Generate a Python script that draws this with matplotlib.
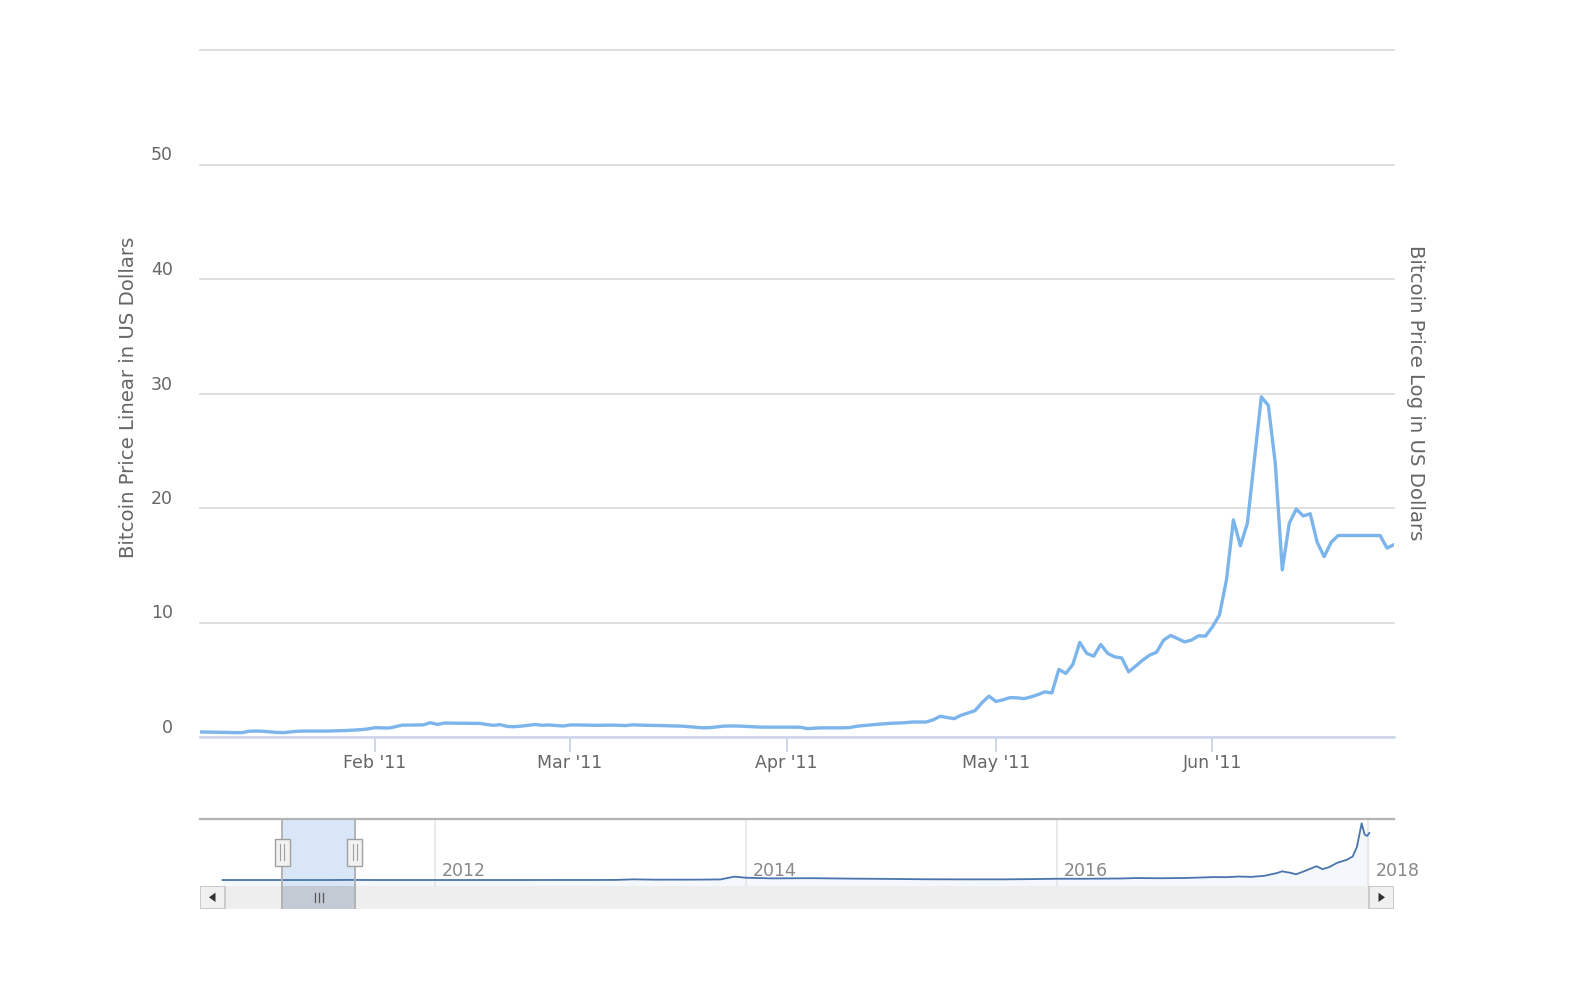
"""
Bitcoin price, Jan - Jun 2011, with a navigator strip underneath
"""
import numpy as np
import pandas as pd
import matplotlib
matplotlib.use("Agg")
import matplotlib.pyplot as plt
import matplotlib.dates as mdates
import matplotlib.transforms as mtrans
from matplotlib.patches import Rectangle, Polygon

# ---- data (one value per day from 7 Jan 2011) ----
price_start = "2011-01-07"
price_jan = [0.44, 0.43, 0.42, 0.41, 0.40, 0.38, 0.38, 0.50, 0.52, 0.50,
             0.45, 0.40, 0.38, 0.45, 0.50, 0.52, 0.52, 0.52, 0.52, 0.53,
             0.55, 0.57, 0.60, 0.64, 0.70]
price_feb = [0.81, 0.80, 0.78, 0.90, 1.04, 1.04, 1.05, 1.06, 1.25, 1.10,
             1.22, 1.21, 1.20, 1.20, 1.19, 1.19, 1.10, 1.02, 1.08, 0.92,
             0.90, 0.95, 1.02, 1.10, 1.02, 1.05, 1.00, 0.96]
price_mar = [1.05, 1.05, 1.04, 1.03, 1.02, 1.03, 1.04, 1.02, 1.00, 1.06,
             1.04, 1.02, 1.01, 1.00, 0.98, 0.96, 0.95, 0.90, 0.85, 0.80,
             0.82, 0.88, 0.95, 0.96, 0.96, 0.93, 0.90, 0.87, 0.86, 0.86,
             0.86]
price_apr = [0.86, 0.86, 0.85, 0.73, 0.77, 0.80, 0.80, 0.80, 0.80, 0.82,
             0.93, 1.00, 1.05, 1.11, 1.15, 1.20, 1.22, 1.25, 1.31, 1.31,
             1.31, 1.50, 1.81, 1.70, 1.60, 1.90, 2.10, 2.30, 3.00, 3.57]
price_may = [3.10, 3.25, 3.44, 3.42, 3.35, 3.50, 3.70, 3.94, 3.85, 5.90,
             5.55, 6.33, 8.26, 7.30, 7.06, 8.08, 7.30, 7.00, 6.90, 5.69,
             6.19, 6.71, 7.15, 7.41, 8.46, 8.87, 8.60, 8.31, 8.46, 8.84,
             8.81]
price_jun = [9.62, 10.65, 13.70, 18.96, 16.70, 18.67, 24.20, 29.70, 28.96,
             23.90, 14.60, 18.67, 19.90, 19.30, 19.50, 17.00, 15.75, 17.00,
             17.60, 17.60, 17.60, 17.60, 17.60, 17.60, 17.60, 16.50, 16.80]

# ---- navigator series (whole history, coarse) ----
nav_dates = ["2010-08-20", "2010-09-15", "2010-11-01", "2011-01-01", "2011-03-01",
             "2011-05-01", "2011-06-08", "2011-07-01", "2011-09-01", "2011-11-01",
             "2012-01-01", "2012-04-01", "2012-07-01", "2012-10-01", "2013-01-01",
             "2013-03-01", "2013-04-10", "2013-06-01", "2013-09-01", "2013-11-01",
             "2013-12-04", "2014-01-01", "2014-03-01", "2014-06-01", "2014-09-01",
             "2014-12-01", "2015-03-01", "2015-06-01", "2015-09-01", "2015-11-01",
             "2016-01-01", "2016-03-01", "2016-06-01", "2016-07-01", "2016-09-01",
             "2016-11-01", "2017-01-01", "2017-02-01", "2017-03-01", "2017-04-01",
             "2017-05-01", "2017-06-01", "2017-06-12", "2017-07-01", "2017-07-15",
             "2017-08-01", "2017-09-01", "2017-09-15", "2017-10-01", "2017-10-20",
             "2017-11-10", "2017-11-25", "2017-12-05", "2017-12-16", "2017-12-23",
             "2017-12-29", "2018-01-03"]
nav_values = [0.07, 0.06, 0.2, 0.3, 0.9,
              3.0, 29, 15, 5, 3,
              5.3, 4.9, 6.7, 12, 13.5,
              34, 230, 120, 130, 200,
              1150, 770, 560, 630, 480,
              380, 255, 225, 230, 315,
              430, 435, 530, 670, 610,
              700, 1000, 970, 1190, 1080,
              1420, 2400, 2950, 2480, 1950,
              2870, 4700, 3700, 4400, 5900,
              6800, 8000, 11300, 19300, 15500,
              15000, 16000]

nav_year_labels = [2012, 2014, 2016, 2018]
y_ticks = [0, 10, 20, 30, 40, 50, 60]

W, H = 1596, 994
fig = plt.figure(figsize=(W / 100, H / 100), dpi=100)
plt.rcParams['font.family'] = ['DejaVu Sans']

prices = price_jan + price_feb + price_mar + price_apr + price_may + price_jun
dates = pd.date_range(price_start, periods=len(prices), freq="D")

# ---- main chart ----
ax = fig.add_axes([200 / W, 1 - 737 / H, 1194 / W, 687 / H])
ax.plot(dates, prices, color="#7cb5ec", lw=2.4, solid_joinstyle="round", zorder=3)
ax.set_xlim(dates[0], dates[-1])
ax.set_ylim(y_ticks[0], y_ticks[-1])
ax.set_yticks(y_ticks)
ax.set_yticklabels([str(v) for v in y_ticks[:-1]] + [""])
ax.grid(axis="y", color="#e0e0e0", lw=1.4)
for gl in ax.get_ygridlines():
    gl.set_clip_on(False)
ax.set_axisbelow(True)
for s in ["left", "right", "top"]:
    ax.spines[s].set_visible(False)
ax.spines["bottom"].set_color("#ccd6eb")
ax.spines["bottom"].set_linewidth(1.8)
ax.spines["bottom"].set_zorder(4)
ax.tick_params(axis="y", length=0, pad=19.4, labelsize=12.5, labelcolor="#666666")
plt.setp(ax.get_yticklabels(), va="bottom")
ax.xaxis.set_major_locator(mdates.MonthLocator())
ax.xaxis.set_major_formatter(mdates.DateFormatter("%b '%y"))
ax.tick_params(axis="x", length=10.5, width=1.4, color="#ccd6eb", pad=1.5,
               labelsize=12.5, labelcolor="#666666")

fig.text(128 / W, 1 - 397 / H, "Bitcoin Price Linear in US Dollars", rotation=90,
         ha="center", va="center", fontsize=14.2, color="#666666")
fig.text(1415 / W, 1 - 393 / H, "Bitcoin Price Log in US Dollars", rotation=270,
         ha="center", va="center", fontsize=14.2, color="#666666")

# ---- navigator ----
nav_w = 1194
nav = fig.add_axes([200 / W, 1 - 885.7 / H, nav_w / W, 66.7 / H])
nx = pd.to_datetime(nav_dates)
nv = np.array(nav_values)
nav.set_xlim(nx[0] - pd.Timedelta(days=53), nx[-1] + pd.Timedelta(days=58))
ylo, yhi = -0.1 * nv.max(), 1.075 * nv.max()
nav.set_ylim(ylo, yhi)

# navigator window = range shown in the main chart
w0, w1 = dates[0], dates[-1]
nav.axvspan(w0, w1, color="#d9e6f7", lw=0, zorder=1)
nav.fill_between(nx, nv, ylo, color="#f4f7fb", lw=0, zorder=0.5)
nav.plot(nx, nv, color="#4a74ad", lw=1.3, zorder=3)

blend = mtrans.blended_transform_factory(nav.transData, nav.transAxes)
for yr in nav_year_labels:
    d = pd.Timestamp(f"{yr}-01-01")
    nav.axvline(d, color="#e6e6e6", lw=1.2, zorder=0.8)
    nav.text(d + pd.Timedelta(days=16), 0.09, str(yr), transform=blend,
             ha="left", va="bottom", fontsize=12.5, color="#888888", zorder=2)

for s in ["left", "right", "bottom"]:
    nav.spines[s].set_visible(False)
nav.spines["top"].set_color("#b3b3b3")
nav.spines["top"].set_linewidth(1.6)
nav.set_xticks([])
nav.set_yticks([])
nav.patch.set_alpha(0)

# handles at window edges
span_days = (nav.get_xlim()[1] - nav.get_xlim()[0])
px_day = span_days / nav_w
hw = 15 * px_day
for d in (w0, w1):
    xd = mdates.date2num(d)
    nav.add_patch(Rectangle((xd - hw / 2, 0.30), hw, 0.40, transform=blend,
                            facecolor="#f2f2f2", edgecolor="#a0a0a0", lw=1.0,
                            zorder=6, clip_on=False))
    for off in (-2, 2):
        nav.plot([xd + off * px_day] * 2, [0.38, 0.62], transform=blend,
                 color="#a0a0a0", lw=0.8, zorder=7, clip_on=False)

# ---- scrollbar ----
sb = fig.add_axes([200 / W, 1 - 909 / H, nav_w / W, 23.3 / H])
sb.set_xlim(nav.get_xlim())
sb.set_ylim(0, 1)
sb.set_facecolor("#eeeeee")
for s in sb.spines.values():
    s.set_visible(False)
sb.set_xticks([])
sb.set_yticks([])
sb.axvspan(w0, w1, color="#c3cad3", lw=0)
mid = mdates.date2num(w0) + (mdates.date2num(w1) - mdates.date2num(w0)) / 2
for off in (-4, 0, 4):
    sb.plot([mid + off * px_day] * 2, [0.3, 0.7], color="#555555", lw=0.9)

bw = 25 / nav_w
for x0, pts in ((0.0, [(0.36, 0.5), (0.62, 0.70), (0.62, 0.30)]),
                (1 - bw, [(0.64, 0.5), (0.38, 0.70), (0.38, 0.30)])):
    sb.add_patch(Rectangle((x0, 0.02), bw, 0.96, transform=sb.transAxes,
                           facecolor="#f0f0f0", edgecolor="#c4c4c4", lw=1.2))
    sb.add_patch(Polygon([(x0 + px * bw, py) for px, py in pts], closed=True,
                         transform=sb.transAxes, facecolor="#333333", lw=0))

# outline down the window edges
for d in (w0, w1):
    nav.axvline(d, color="#b3b3b3", lw=1.4, zorder=5)
    sb.axvline(d, color="#b3b3b3", lw=1.4, zorder=5)

fig.savefig("out.png", dpi=100)
